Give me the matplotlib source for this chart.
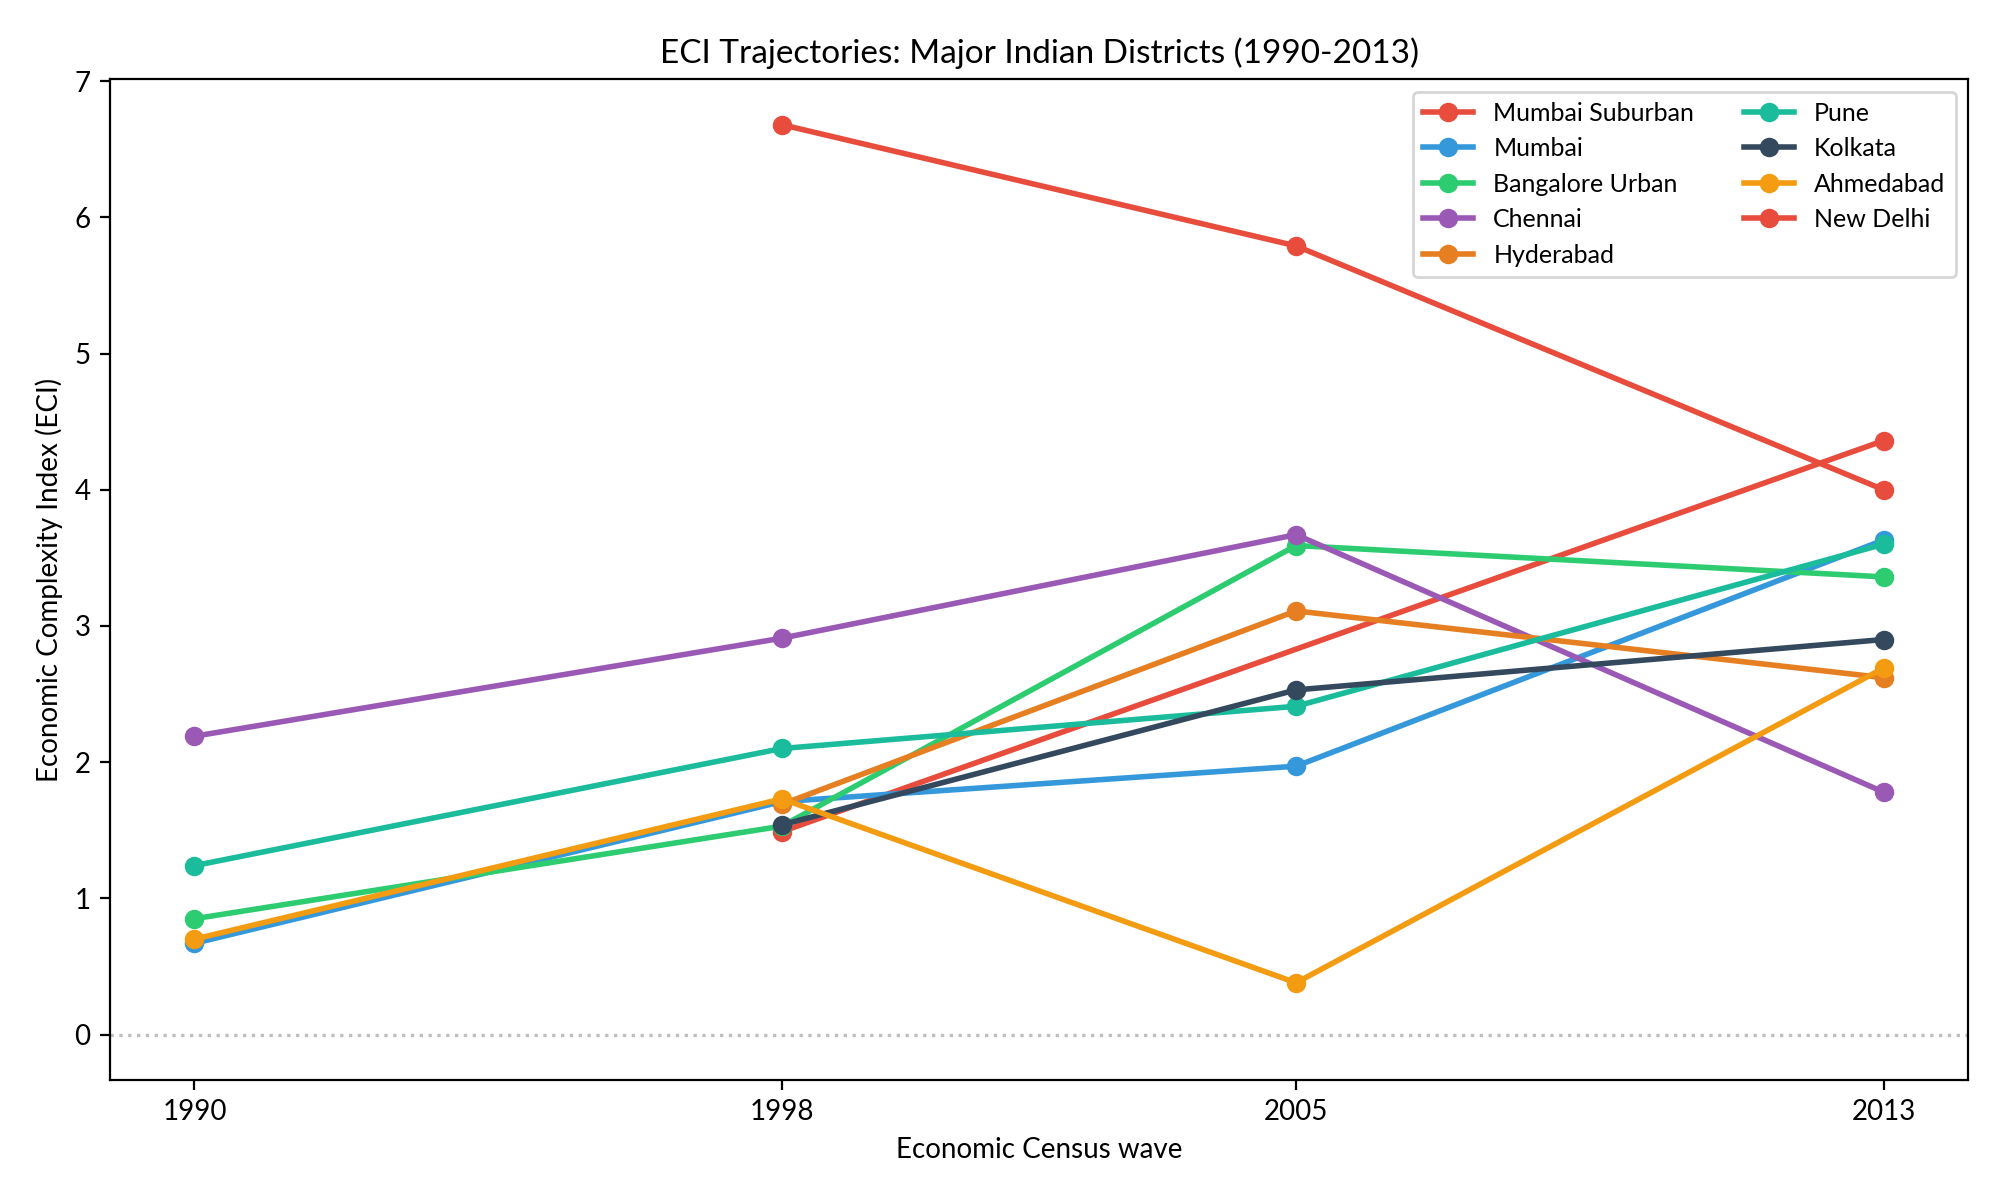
import numpy as np
import matplotlib
matplotlib.use("Agg")
import matplotlib.pyplot as plt

plt.rcParams["font.family"] = ["Lato", "DejaVu Sans"]

years = [1990, 1998, 2005, 2013]

# ECI per district, NaN = district not present in that wave
mumbai_suburban = [np.nan, 6.68, 5.79, 4.00]
mumbai = [0.67, 1.71, 1.97, 3.63]
bangalore_urban = [0.85, 1.53, 3.59, 3.36]
chennai = [2.19, 2.91, 3.67, 1.78]
hyderabad = [np.nan, 1.69, 3.11, 2.62]
pune = [1.24, 2.10, 2.41, 3.60]
kolkata = [np.nan, 1.54, 2.53, 2.90]
ahmedabad = [0.70, 1.73, 0.38, 2.69]
new_delhi = [np.nan, 1.49, np.nan, 4.36]

districts = ["Mumbai Suburban", "Mumbai", "Bangalore Urban", "Chennai",
             "Hyderabad", "Pune", "Kolkata", "Ahmedabad", "New Delhi"]
series = [mumbai_suburban, mumbai, bangalore_urban, chennai,
          hyderabad, pune, kolkata, ahmedabad, new_delhi]
colors = ["#e74c3c", "#3498db", "#2ecc71", "#9b59b6", "#e67e22",
          "#1abc9c", "#34495e", "#f39c12", "#e74c3c"]

fig, ax = plt.subplots(figsize=(10, 6), dpi=200)

for name, vals, c in zip(districts, series, colors):
    x = np.array(years, dtype=float)
    y = np.array(vals, dtype=float)
    ok = ~np.isnan(y)
    z = 1.9 if name == "New Delhi" else 2
    ax.plot(x[ok], y[ok], marker="o", color=c, linewidth=2,
            markersize=6, label=name, zorder=z)

ax.axhline(0, color="gray", linestyle=":", linewidth=1.2, alpha=0.5)

ax.set_xticks(years)
ax.set_xlabel("Economic Census wave", fontsize=10)
ax.set_ylabel("Economic Complexity Index (ECI)", fontsize=10)
ax.set_title("ECI Trajectories: Major Indian Districts (1990-2013)", fontsize=12)
ax.tick_params(labelsize=10)
ax.legend(ncol=2, loc="upper right", fontsize=9)

fig.subplots_adjust(left=0.055, right=0.984, top=0.934, bottom=0.1)
fig.savefig("out.png", dpi=200)
